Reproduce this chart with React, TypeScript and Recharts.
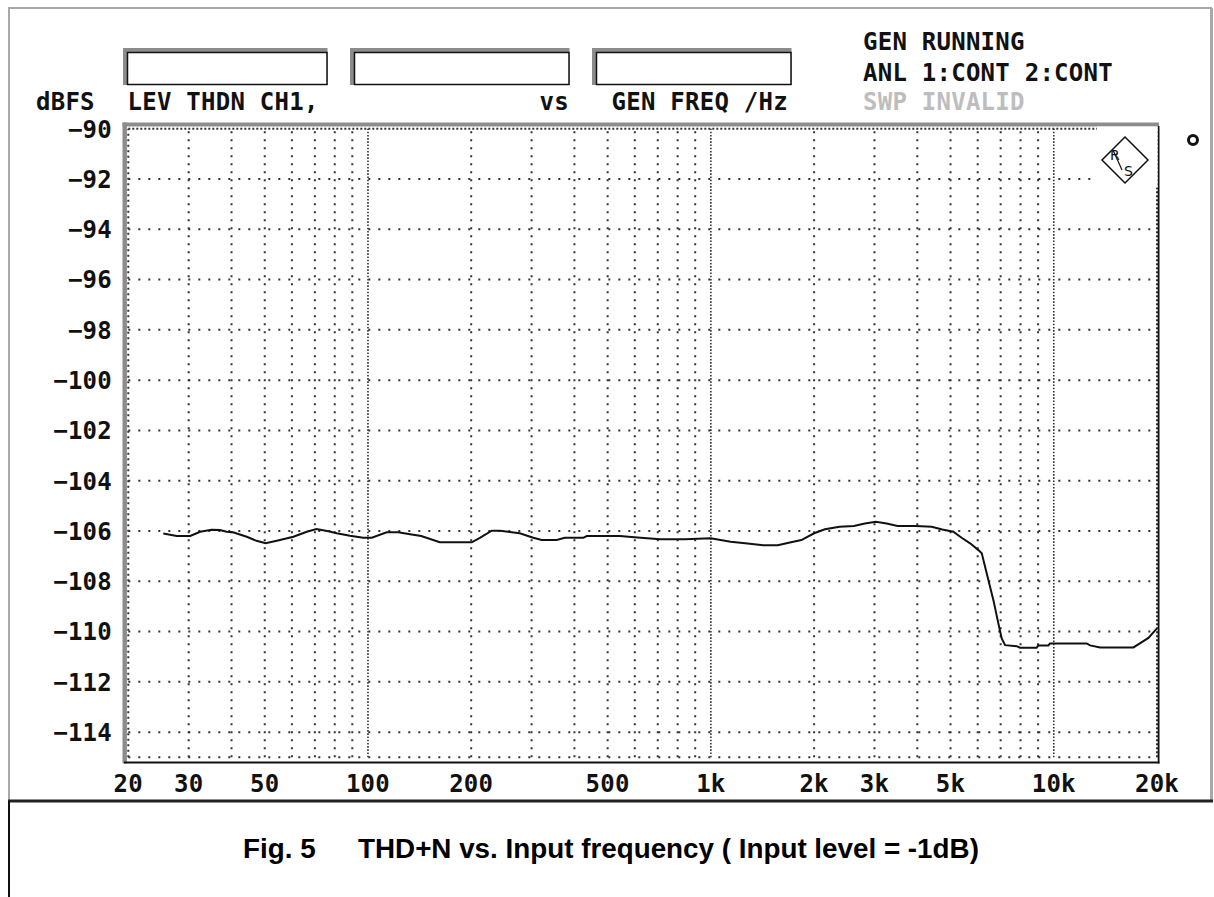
import React from 'react';
import { LineChart, Line, XAxis, YAxis, ReferenceLine } from 'recharts';

// measured THD+N curve (Hz, dBFS)
const freqHz = [
  25.3, 27.7, 30.3, 32.4, 35, 37, 38.7, 40.4, 44.3, 47.3, 50.3, 54.2, 60.6, 66.3, 70.8, 76.6, 81.1, 88.6, 96.9,
  102.6, 113.4, 122.5, 132.7, 143, 162, 200.7, 212, 229.6, 243, 262.5, 277, 303.5, 321, 355, 375, 424.6, 434.6,
  543, 598.6, 711, 841, 998, 1142, 1259, 1422, 1567, 1686, 1837, 2000, 2151, 2373, 2613, 2813, 3027, 3256, 3502,
  3961, 4405, 4730, 5094, 5386, 5701, 6028, 6165, 6376, 6667, 6891, 7049, 7210, 7799, 7966, 8913, 9020, 9645,
  9749, 12476, 12759, 13649, 17073, 17830, 18880, 20000,
];
const thdnDbfs = [
  -106.1, -106.2, -106.2, -106.03, -105.95, -105.96, -106.03, -106.05, -106.23, -106.39, -106.49, -106.39, -106.23,
  -106.03, -105.92, -106.01, -106.09, -106.19, -106.27, -106.27, -106.05, -106.05, -106.13, -106.2, -106.45, -106.45,
  -106.27, -105.99, -105.99, -106.05, -106.09, -106.27, -106.36, -106.36, -106.27, -106.27, -106.2, -106.2, -106.25,
  -106.33, -106.33, -106.29, -106.43, -106.49, -106.57, -106.57, -106.47, -106.36, -106.09, -105.93, -105.83, -105.8,
  -105.7, -105.63, -105.7, -105.8, -105.8, -105.83, -105.94, -106.03, -106.27, -106.49, -106.76, -106.89, -107.69,
  -108.75, -109.67, -110.27, -110.54, -110.58, -110.64, -110.64, -110.55, -110.55, -110.47, -110.47, -110.55, -110.63,
  -110.63, -110.47, -110.25, -109.87,
];

const xTickValues = [20, 30, 50, 100, 200, 500, 1000, 2000, 3000, 5000, 10000, 20000];
const xTickLabels = ['20', '30', '50', '100', '200', '500', '1k', '2k', '3k', '5k', '10k', '20k'];
const yTickValues = [-90, -92, -94, -96, -98, -100, -102, -104, -106, -108, -110, -112, -114];
const yTickLabels = ['−90', '−92', '−94', '−96', '−98', '−100', '−102', '−104', '−106', '−108', '−110', '−112', '−114'];
const minorFreqs = [30, 40, 50, 60, 70, 80, 90, 200, 300, 400, 500, 600, 700, 800, 900, 2000, 3000, 4000, 5000, 6000, 7000, 8000, 9000];
const decadeFreqs = [100, 1000, 10000];
const hGridLevels = [-92, -94, -96, -98, -100, -102, -104, -106, -108, -110, -112, -114, -115];

const headerTexts = ['dBFS', 'LEV THDN CH1,', 'vs', 'GEN FREQ /Hz'];
const statusTexts = ['GEN RUNNING', 'ANL 1:CONT 2:CONT', 'SWP INVALID'];
const logoLetters = ['R', 'S'];
const captionLabel = 'Fig. 5';
const captionTitle = 'THD+N vs. Input frequency ( Input level = -1dB)';

const data = freqHz.map((f, i) => ({ f, v: thdnDbfs[i] }));

const MONO = '"DejaVu Sans Mono", "Liberation Mono", monospace';
const monoStyle: React.CSSProperties = { fontFamily: MONO, fontWeight: 700, fontSize: 24, letterSpacing: 0.25 };

const XTick = (p: any) => {
  const idx = xTickValues.indexOf(p.payload.value);
  return (
    <text x={p.x} y={792} textAnchor="middle" fill="#111" style={monoStyle}>
      {idx >= 0 ? xTickLabels[idx] : ''}
    </text>
  );
};
const YTick = (p: any) => {
  const idx = yTickValues.indexOf(p.payload.value);
  return (
    <text x={112} y={p.y + 8.8} textAnchor="end" fill="#111" style={monoStyle}>
      {idx >= 0 ? yTickLabels[idx] : ''}
    </text>
  );
};

const Box = ({ x0, x1 }: { x0: number; x1: number }) => (
  <g>
    <rect x={x0} y={48} width={x1 - x0} height={37} fill="#8c8c8c" />
    <rect x={x0 + 4.5} y={52.5} width={x1 - x0 - 5} height={32} fill="#fff" stroke="#111" strokeWidth={1.5} />
  </g>
);

export default function App() {
  return (
    <div style={{ position: 'absolute', left: 0, top: 0, width: 1214, height: 897, background: '#fff' }}>
      <LineChart width={1214} height={897} data={data} margin={{ top: 128.7, right: 57, bottom: 0, left: 0 }}>
        <XAxis
          dataKey="f"
          type="number"
          scale="log"
          domain={[20, 20000]}
          ticks={xTickValues}
          interval={0}
          allowDataOverflow
          height={139.7}
          axisLine={false}
          tickLine={false}
          tick={XTick}
        />
        <YAxis
          type="number"
          domain={[-115, -90]}
          ticks={yTickValues}
          interval={0}
          allowDataOverflow
          width={128.3}
          axisLine={false}
          tickLine={false}
          tick={YTick}
        />
        {hGridLevels.map((v) => (
          <ReferenceLine key={'h' + v} y={v} stroke="#333" strokeWidth={2} strokeDasharray="2 8" ifOverflow="visible" />
        ))}
        <ReferenceLine y={-90} stroke="#333" strokeWidth={2} strokeDasharray="2 2" ifOverflow="visible" />
        {minorFreqs.map((f) => (
          <ReferenceLine key={'v' + f} x={f} stroke="#333" strokeWidth={2} strokeDasharray="2 6" ifOverflow="visible" />
        ))}
        {decadeFreqs.map((f) => (
          <ReferenceLine key={'d' + f} x={f} stroke="#333" strokeWidth={1.6} strokeDasharray="1.6 1.6" ifOverflow="visible" />
        ))}
        <ReferenceLine x={20} stroke="#333" strokeWidth={2} strokeDasharray="2 3.5" ifOverflow="visible" />
        <ReferenceLine x={20000} stroke="#333" strokeWidth={2} strokeDasharray="2 2" ifOverflow="visible" />
        <Line dataKey="v" type="linear" stroke="#111" strokeWidth={2} dot={false} isAnimationActive={false} />
      </LineChart>

      <svg width={1214} height={897} style={{ position: 'absolute', left: 0, top: 0, pointerEvents: 'none' }}>
        {/* outer instrument frame */}
        <line x1={8} y1={8} x2={1212} y2={8} stroke="#a8a8a8" strokeWidth={2} />
        <line x1={9} y1={8} x2={9} y2={801} stroke="#a8a8a8" strokeWidth={2} />
        <line x1={1211.5} y1={8} x2={1211.5} y2={801} stroke="#a8a8a8" strokeWidth={3} />
        <line x1={8} y1={801} x2={1213} y2={801} stroke="#222" strokeWidth={3} />
        <line x1={9} y1={801} x2={9} y2={897} stroke="#111" strokeWidth={2} />

        {/* header boxes */}
        <Box x0={123} x1={327.5} />
        <Box x0={350} x1={569.5} />
        <Box x0={592} x1={791.5} />

        <text x={36} y={110} fill="#111" style={monoStyle}>{headerTexts[0]}</text>
        <text x={127.5} y={110} fill="#111" style={monoStyle}>{headerTexts[1]}</text>
        <text x={539.5} y={110} fill="#111" style={monoStyle}>{headerTexts[2]}</text>
        <text x={611.5} y={110} fill="#111" style={monoStyle}>{headerTexts[3]}</text>
        <text x={863} y={50} fill="#111" style={monoStyle}>{statusTexts[0]}</text>
        <text x={863} y={81} fill="#111" style={monoStyle}>{statusTexts[1]}</text>
        <text x={863} y={110} fill="#bdbdbd" style={monoStyle}>{statusTexts[2]}</text>

        {/* plot frame */}
        <line x1={122.5} y1={124.5} x2={1159} y2={124.5} stroke="#8c8c8c" strokeWidth={4} />
        <line x1={124.7} y1={122.5} x2={124.7} y2={763.5} stroke="#8c8c8c" strokeWidth={4.4} />
        <line x1={1158.6} y1={126} x2={1158.6} y2={763.5} stroke="#111" strokeWidth={1.8} />
        <line x1={124} y1={762.6} x2={1159.5} y2={762.6} stroke="#111" strokeWidth={2} />

        {/* R&S logo area */}
        <rect x={1097} y={126.6} width={60.6} height={61} fill="#fff" />
        <polygon points="1125,137 1148,160 1125,183 1102,160" fill="#fff" stroke="#111" strokeWidth={1.5} />
        <text x={1110} y={160} fontFamily='"DejaVu Sans", sans-serif' fontSize={14} fill="#111">{logoLetters[0]}</text>
        <text x={1124} y={176} fontFamily='"DejaVu Sans", sans-serif' fontSize={14} fill="#111">{logoLetters[1]}</text>
        <line x1={1113} y1={150} x2={1122} y2={170} stroke="#111" strokeWidth={1.2} />
        <circle cx={1193} cy={140} r={4.5} fill="#fff" stroke="#111" strokeWidth={3} />

        {/* caption */}
        <text x={243} y={858} fontFamily='"Liberation Sans", Arial, sans-serif' fontWeight={700} fontSize={27.8} fill="#000">
          {captionLabel}
        </text>
        <text x={358} y={858} fontFamily='"Liberation Sans", Arial, sans-serif' fontWeight={700} fontSize={27.8} fill="#000">
          {captionTitle}
        </text>
      </svg>
    </div>
  );
}
